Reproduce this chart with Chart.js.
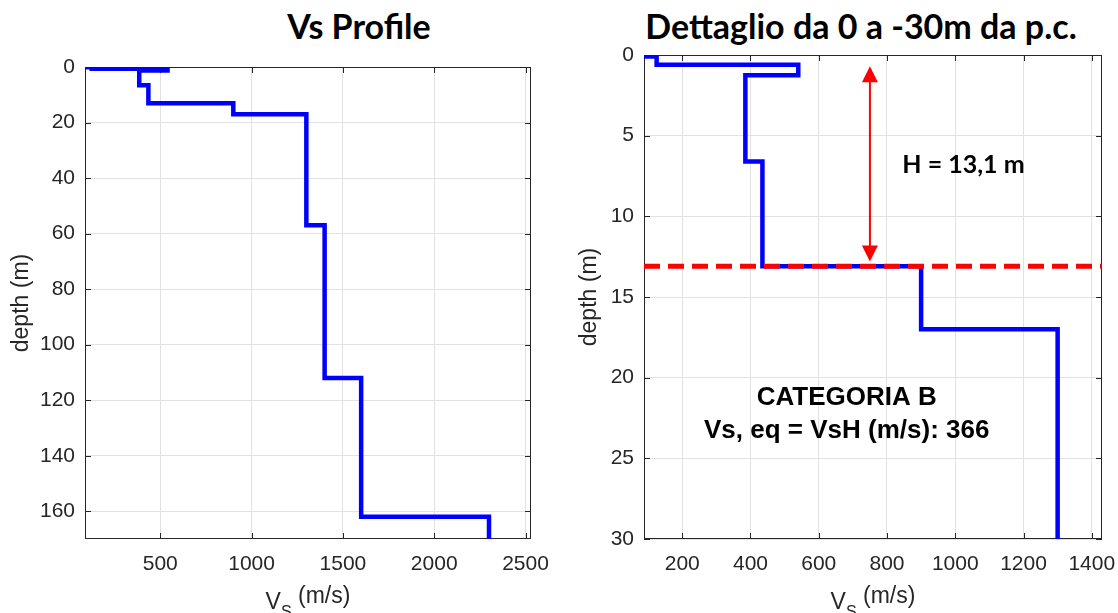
<!DOCTYPE html>
<html>
<head>
<meta charset="utf-8">
<script src="https://cdn.jsdelivr.net/npm/chart.js@4.4.0/dist/chart.umd.min.js"></script>
<style>
  body { margin: 0; background: #fff; width: 1118px; height: 613px; overflow: hidden; position: relative; }
  .titolo { position: absolute; top: 6px; line-height: 40px; font-family: Lato, "Open Sans", sans-serif; font-weight: bold; font-size: 34px; color: #000; white-space: nowrap; transform: translateX(-50%); }
  canvas { position: absolute; top: 0; }
</style>
</head>
<body>
<div class="titolo" style="left:359px">Vs Profile</div>
<div class="titolo" style="left:861px">Dettaglio da 0 a -30m da p.c.</div>
<canvas id="chartProfilo" width="560" height="613" style="left:0"></canvas>
<canvas id="chartDettaglio" width="558" height="613" style="left:560px"></canvas>
<script>
"use strict";

// profilo Vs a strati (velocita' in m/s, tetto dello strato in m)
var velocitaStrati = [88, 125, 540, 385, 435, 900, 1300, 1400, 1600, 2300];
var tettoStrati    = [0, 0.1, 0.6, 1.25, 6.6, 13.1, 17, 57, 112, 162];
var fondoProfilo   = 170;

var tickProfiloX   = [500, 1000, 1500, 2000, 2500];
var tickProfiloY   = [0, 20, 40, 60, 80, 100, 120, 140, 160];
var tickDettaglioX = [200, 400, 600, 800, 1000, 1200, 1400];
var tickDettaglioY = [0, 5, 10, 15, 20, 25, 30];

var profonditaH = 13.1;
var frecciaV = 750, frecciaDa = 0.7, frecciaA = 12.8;
var testoH = "H = 13,1 m";
var testoCategoria = "CATEGORIA B";
var testoVsEq = "Vs, eq = VsH (m/s): 366";

var fontAssi = "'Liberation Sans', Arial, sans-serif";
var grigio = "#262626";

// punti a gradini
var puntiProfilo = [];
velocitaStrati.forEach(function(v, i){
    var fondo = i < tettoStrati.length - 1 ? tettoStrati[i + 1] : fondoProfilo;
    puntiProfilo.push({x: v, y: tettoStrati[i]});
    puntiProfilo.push({x: v, y: fondo});
});

// cornice, tacche interne e titolo asse x con pedice
var cornice = {
    id: "cornice",
    beforeDatasetsDraw: function(chart){
        var a = chart.chartArea, ctx = chart.ctx;
        var sx = chart.scales.x, sy = chart.scales.y;
        ctx.save();
        ctx.strokeStyle = grigio;
        ctx.lineWidth = 1;
        ctx.strokeRect(Math.round(a.left) + 0.5, Math.round(a.top) + 0.5, Math.round(a.width) - 1, Math.round(a.height) - 1);
        ctx.beginPath();
        sx.ticks.forEach(function(t){
            var p = Math.round(sx.getPixelForValue(t.value)) + 0.5;
            ctx.moveTo(p, a.bottom); ctx.lineTo(p, a.bottom - 6);
            ctx.moveTo(p, a.top); ctx.lineTo(p, a.top + 6);
        });
        sy.ticks.forEach(function(t){
            var p = Math.round(sy.getPixelForValue(t.value)) + 0.5;
            ctx.moveTo(a.left, p); ctx.lineTo(a.left + 6, p);
            ctx.moveTo(a.right, p); ctx.lineTo(a.right - 6, p);
        });
        ctx.stroke();
        ctx.restore();
    },
    afterDraw: function(chart){
        var a = chart.chartArea, ctx = chart.ctx;
        ctx.save();
        ctx.fillStyle = grigio;
        ctx.textBaseline = "alphabetic";
        ctx.textAlign = "left";
        ctx.font = "23px " + fontAssi;
        var wV = ctx.measureText("V").width;
        var wR = ctx.measureText(" (m/s)").width;
        ctx.font = "16px " + fontAssi;
        var wS = ctx.measureText("S").width;
        var x0 = (a.left + a.right) / 2 - (wV + wS + wR) / 2;
        ctx.font = "23px " + fontAssi;
        ctx.fillText("V", x0, 609);
        ctx.font = "16px " + fontAssi;
        ctx.fillText("S", x0 + wV, 617);
        ctx.font = "23px " + fontAssi;
        ctx.fillText(" (m/s)", x0 + wV + wS, 603);
        ctx.restore();
    }
};

// freccia H e scritte del dettaglio
var annotazioni = {
    id: "annotazioni",
    afterDatasetsDraw: function(chart){
        var ctx = chart.ctx, sx = chart.scales.x, sy = chart.scales.y;
        var xa = sx.getPixelForValue(frecciaV);
        var y1 = sy.getPixelForValue(frecciaDa), y2 = sy.getPixelForValue(frecciaA);
        ctx.save();
        ctx.strokeStyle = "#ff0000";
        ctx.fillStyle = "#ff0000";
        ctx.lineWidth = 2;
        ctx.beginPath();
        ctx.moveTo(xa, y1 + 10); ctx.lineTo(xa, y2 - 10);
        ctx.stroke();
        ctx.beginPath();
        ctx.moveTo(xa, y1); ctx.lineTo(xa - 8, y1 + 16); ctx.lineTo(xa + 8, y1 + 16); ctx.closePath();
        ctx.moveTo(xa, y2); ctx.lineTo(xa - 8, y2 - 16); ctx.lineTo(xa + 8, y2 - 16); ctx.closePath();
        ctx.fill();

        ctx.fillStyle = "#000";
        ctx.textBaseline = "alphabetic";
        ctx.textAlign = "left";
        ctx.font = "bold 25px Lato, 'Open Sans', sans-serif";
        ctx.fillText(testoH, sx.getPixelForValue(845), sy.getPixelForValue(7.3));
        ctx.textAlign = "center";
        ctx.font = "bold 26px 'Liberation Sans', Arial, sans-serif";
        ctx.fillText(testoCategoria, sx.getPixelForValue(682), sy.getPixelForValue(21.7));
        ctx.fillText(testoVsEq, sx.getPixelForValue(682), sy.getPixelForValue(23.75));
        ctx.restore();
    }
};

function creaGrafico(id, cfg){
    var ctx = document.getElementById(id).getContext("2d");
    return new Chart(ctx, {
        type: "scatter",
        data: { datasets: cfg.datasets },
        options: {
            responsive: false,
            animation: false,
            layout: { padding: { left: 0, right: cfg.padDestra, top: cfg.padAlto, bottom: 0 } },
            plugins: { legend: { display: false }, tooltip: { enabled: false } },
            scales: {
                x: {
                    type: "linear",
                    min: cfg.xMin, max: cfg.xMax,
                    afterBuildTicks: function(s){ s.ticks = cfg.tickX.map(function(v){ return {value: v}; }); },
                    afterFit: function(s){ s.height = 74; s.paddingLeft = 0; s.paddingRight = 0; },
                    grid: { color: "#e2e2e2", drawTicks: false },
                    border: { display: false },
                    ticks: { color: grigio, font: { family: fontAssi, size: 21 }, padding: 13, maxRotation: 0,
                             callback: function(v){ return String(v); } }
                },
                y: {
                    type: "linear",
                    reverse: true,
                    min: cfg.yMin, max: cfg.yMax,
                    afterBuildTicks: function(s){ s.ticks = cfg.tickY.map(function(v){ return {value: v}; }); },
                    afterFit: function(s){ s.width = cfg.larghezzaY; s.paddingTop = 0; s.paddingBottom = 0; },
                    grid: { color: "#e2e2e2", drawTicks: false },
                    border: { display: false },
                    ticks: { color: grigio, font: { family: fontAssi, size: 21 }, padding: 10,
                             callback: function(v){ return String(v); } },
                    title: { display: true, text: "depth (m)", color: grigio, font: { family: fontAssi, size: 23 }, padding: { top: cfg.padTitoloY } }
                }
            }
        },
        plugins: cfg.plugins
    });
}

var datasetProfilo = {
    data: puntiProfilo,
    showLine: true,
    borderColor: "#0000ff",
    borderWidth: 4.5,
    borderJoinStyle: "miter",
    pointRadius: 0,
    order: 1
};

window.profilo = creaGrafico("chartProfilo", {
    datasets: [datasetProfilo],
    xMin: 88, xMax: 2530, yMin: 0, yMax: 170,
    tickX: tickProfiloX, tickY: tickProfiloY,
    padDestra: 29, padAlto: 67, larghezzaY: 85, padTitoloY: 8,
    plugins: [cornice]
});

window.dettaglio = creaGrafico("chartDettaglio", {
    datasets: [
        {
            data: [{x: 88, y: profonditaH}, {x: 1430, y: profonditaH}],
            showLine: true,
            borderColor: "#ff0000",
            borderWidth: 5,
            borderDash: [16, 8],
            pointRadius: 0,
            order: 0
        },
        Object.assign({}, datasetProfilo)
    ],
    xMin: 88, xMax: 1430, yMin: 0, yMax: 30,
    tickX: tickDettaglioX, tickY: tickDettaglioY,
    padDestra: 16, padAlto: 55, larghezzaY: 84, padTitoloY: 16,
    plugins: [cornice, annotazioni]
});
</script>
</body>
</html>
